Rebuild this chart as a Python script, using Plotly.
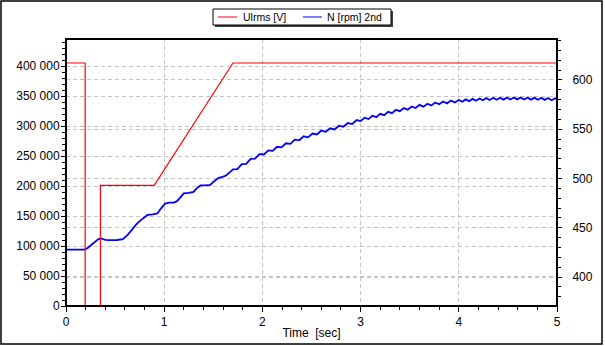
import plotly.graph_objects as go

# ---- data ----
# Ulrms [V] (left axis)
t_u = [0.0, 0.195, 0.195, 0.35, 0.35, 0.898, 1.70, 5.0]
u_rms = [405000, 405000, 0, 0, 201000, 201000, 405000, 405000]

# N [rpm] 2nd (right axis)
t_n = [0.00, 0.19, 0.22, 0.26, 0.30, 0.33, 0.36, 0.40, 0.45, 0.52, 0.58, 0.63, 0.68,
       0.72, 0.76, 0.80, 0.83, 0.88, 0.93, 0.97, 1.01, 1.05, 1.10, 1.13, 1.17, 1.20,
       1.25, 1.30, 1.33, 1.37, 1.42, 1.47, 1.50, 1.55, 1.60, 1.63, 1.67,
       1.700, 1.745, 1.790, 1.835, 1.880, 1.925, 1.970, 2.015, 2.060, 2.105, 2.150,
       2.195, 2.240, 2.285, 2.330, 2.375, 2.420, 2.465, 2.510, 2.555, 2.600, 2.645,
       2.690, 2.735, 2.780, 2.825, 2.870, 2.915, 2.960,
       3.000, 3.040, 3.080, 3.120, 3.160, 3.200, 3.240, 3.280, 3.320, 3.360, 3.400,
       3.440, 3.480, 3.520, 3.560, 3.600, 3.640, 3.680, 3.720, 3.760, 3.800, 3.840,
       3.880, 3.920, 3.960,
       4.000, 4.035, 4.070, 4.105, 4.140, 4.175, 4.210, 4.245, 4.280, 4.315, 4.350,
       4.385, 4.420, 4.455, 4.490, 4.525, 4.560, 4.595, 4.630, 4.665, 4.700, 4.735,
       4.770, 4.805, 4.840, 4.875, 4.910, 4.945, 4.980, 5.000]
n_rpm = [427.9, 427.9, 429.5, 433.0, 436.5, 438.6, 439.2, 437.8, 437.5, 437.6, 438.5, 443.0, 449.0,
         454.0, 457.5, 461.0, 463.0, 463.5, 464.5, 470.0, 474.5, 475.5, 475.5, 477.0, 482.0, 485.0,
         485.5, 486.5, 490.0, 493.0, 493.0, 493.5, 496.5, 500.5, 502.0, 503.0, 506.5,
         509.2, 509.5, 514.6, 514.9, 520.0, 520.1, 524.7, 524.4, 528.6, 528.0, 532.2,
         531.6, 535.8, 535.2, 539.4, 538.8, 542.8, 541.8, 545.6, 544.7, 548.7, 547.4,
         551.0, 549.8, 553.6, 552.6, 556.3, 555.3, 559.3,
         558.3, 561.7, 560.3, 563.7, 562.3, 565.7, 564.3, 567.7, 566.3, 569.7, 568.3,
         571.5, 569.9, 573.1, 571.5, 574.7, 572.9, 575.9, 574.1, 577.1, 575.3, 578.2,
         576.3, 579.1, 577.1,
         579.7, 578.0, 580.3, 578.5, 580.8, 579.0, 581.2, 579.4, 581.6, 579.7, 581.9,
         580.0, 582.0, 580.1, 582.2, 580.2, 582.3, 580.3, 582.3, 580.2, 582.2, 580.1,
         582.1, 580.0, 581.9, 579.8, 581.7, 579.5, 581.4, 580.3]

x_ticks = [0, 1, 2, 3, 4, 5]
x_labels = ["0", "1", "2", "3", "4", "5"]
left_ticks = [0, 50000, 100000, 150000, 200000, 250000, 300000, 350000, 400000]
left_labels = ["0", "50 000", "100 000", "150 000", "200 000", "250 000",
               "300 000", "350 000", "400 000"]
right_ticks = [400, 450, 500, 550, 600]
right_labels = ["400", "450", "500", "550", "600"]

series_names = ["Ulrms [V]", "N [rpm] 2nd"]
series_colors = ["#ff0000", "#0000ff"]

W, H = 605, 346
L, R, T, B = 66, 557, 39, 306
pw, ph = R - L, B - T


def px(x):
    return (x - L) / pw


def py(y):
    return (B - y) / ph


grid = dict(showgrid=True, gridcolor="#c4c4c4", gridwidth=1, griddash="4px,3px")
line = dict(showline=True, linecolor="black", linewidth=1, zeroline=False,
            ticks="outside", tickcolor="black", tickwidth=1)

fig = go.Figure()
fig.add_trace(go.Scatter(x=t_n, y=n_rpm, name=series_names[1], mode="lines",
                         line=dict(color=series_colors[1], width=1.8), yaxis="y",
                         hoverinfo="skip", showlegend=False))
fig.add_trace(go.Scatter(x=t_u, y=u_rms, name=series_names[0], mode="lines",
                         line=dict(color=series_colors[0], width=1.2), yaxis="y2",
                         hoverinfo="skip", showlegend=False))

shapes = [
    # outer window border
    dict(type="rect", xref="paper", yref="paper", x0=px(1), x1=px(602),
         y0=py(344), y1=py(1), line=dict(color="black", width=1.5), layer="below"),
    # thick plot frame drawn over the traces
    dict(type="rect", xref="paper", yref="paper", x0=0, x1=1, y0=0, y1=1,
         line=dict(color="black", width=2), layer="above"),
    # custom legend box with shadow
    dict(type="rect", xref="paper", yref="paper", x0=px(215), x1=px(393),
         y0=py(27), y1=py(11), fillcolor="#404040", line=dict(width=0)),
    dict(type="rect", xref="paper", yref="paper", x0=px(213), x1=px(391),
         y0=py(25), y1=py(9), fillcolor="white", line=dict(color="black", width=1)),
]
annotations = []
sample_x = [218, 303]
text_x = [242, 326]
for name, col, sx, tx in zip(series_names, series_colors, sample_x, text_x):
    shapes.append(dict(type="line", xref="paper", yref="paper", x0=px(sx), x1=px(sx + 19),
                       y0=py(17), y1=py(17), line=dict(color=col, width=1)))
    annotations.append(dict(text=name, xref="paper", yref="paper", x=px(tx - 1), y=py(17),
                            xanchor="left", yanchor="middle", showarrow=False,
                            font=dict(size=10.5, color="black")))

fig.update_layout(
    width=W, height=H,
    margin=dict(l=L, r=W - R, t=T, b=H - B, autoexpand=False),
    paper_bgcolor="white", plot_bgcolor="white",
    font=dict(family="Liberation Sans", size=12, color="black"),
    xaxis=dict(range=[0, 5], tickmode="array", tickvals=x_ticks, ticktext=x_labels,
               mirror=True, ticklen=5,
               minor=dict(tickmode="linear", tick0=0, dtick=0.2, ticklen=3,
                          ticks="outside", tickcolor="black", showgrid=False),
               title=dict(text="Time\u00a0 [sec]", standoff=0, font=dict(size=12)),
               **grid, **line),
    yaxis=dict(range=[370.6, 641.6], side="right", tickmode="array",
               tickvals=right_ticks, ticktext=right_labels, ticklen=4,
               ticklabelstandoff=8,
               minor=dict(tickmode="linear", tick0=0, dtick=10, ticklen=3,
                          ticks="outside", tickcolor="black", showgrid=False),
               **grid, **line),
    yaxis2=dict(range=[0, 445000], side="left", overlaying="y", anchor="x",
                tickmode="array", tickvals=left_ticks, ticktext=left_labels,
                ticklen=4, ticklabelstandoff=-1,
                minor=dict(tickmode="linear", tick0=0, dtick=10000, ticklen=3,
                           ticks="outside", tickcolor="black", showgrid=False),
                **grid, **line),
    showlegend=False,
    shapes=shapes,
    annotations=annotations,
)

fig.write_html("out.html", config={"displayModeBar": False},
               post_script="document.body.style.margin='0';")
